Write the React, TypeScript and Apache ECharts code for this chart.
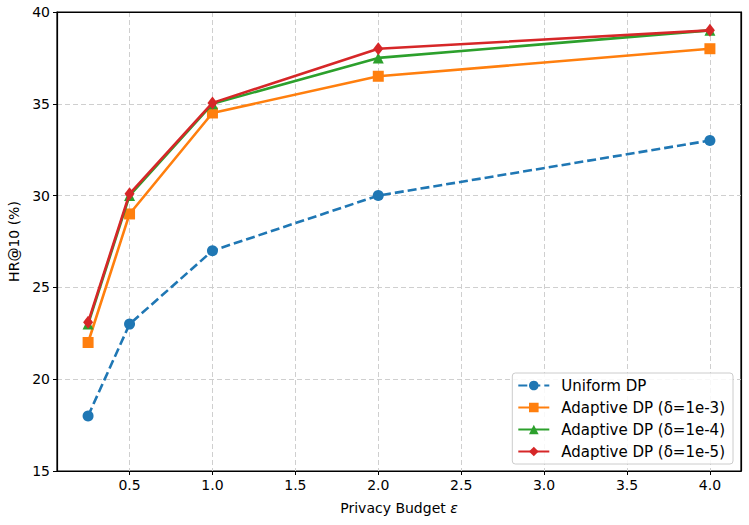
import React, { useEffect, useRef } from "react";
import * as echarts from "echarts";

const budgets = [0.25, 0.5, 1.0, 2.0, 4.0];
const uniformDP = [18, 23, 27, 30, 33];
const adaptive1e3 = [22, 29, 34.5, 36.5, 38];
const adaptive1e4 = [23, 30, 35, 37.5, 39];
const adaptive1e5 = [23.1, 30.1, 35.05, 38, 39];
const xTicks = [0.5, 1.0, 1.5, 2.0, 2.5, 3.0, 3.5, 4.0];
const seriesNames = [
  "Uniform DP",
  "Adaptive DP (δ=1e-3)",
  "Adaptive DP (δ=1e-4)",
  "Adaptive DP (δ=1e-5)",
];

const FONT = "DejaVu Sans";

export default function App() {
  const ref = useRef<HTMLDivElement>(null);
  useEffect(() => {
    if (!ref.current) return;
    const chart = echarts.init(ref.current, undefined, { renderer: "svg" });
    const pts = (ys: number[]) => budgets.map((x, i) => [x, ys[i]]);
    const mk = (
      name: string,
      ys: number[],
      color: string,
      symbol: string,
      symbolSize: number | number[],
      dashed: boolean,
      z: number
    ) => ({
      name,
      type: "line",
      data: pts(ys),
      symbol,
      symbolSize,
      z,
      itemStyle: { color },
      lineStyle: { color, width: 2.6, type: dashed ? [9, 4] : "solid" },
      emphasis: { disabled: true },
    });
    const frameAxis = {
      axisLine: { show: true, onZero: false, lineStyle: { color: "#000", width: 1.2 } },
      axisTick: { show: false },
      axisLabel: { show: false },
      splitLine: { show: false },
    };
    chart.setOption({
      animation: false,
      textStyle: { fontFamily: FONT },
      grid: {
        left: 57,
        right: 8,
        top: 12,
        bottom: 54,
        outerBoundsMode: "none",
        containLabel: false,
        show: true,
        borderColor: "#000",
        borderWidth: 1.2,
        backgroundColor: "#fff",
      },
      legend: {
        orient: "vertical",
        right: 16,
        bottom: 61,
        align: "left",
        itemWidth: 31,
        itemHeight: 12,
        itemGap: 7,
        padding: [5, 8, 5, 5],
        backgroundColor: "rgba(255,255,255,0.85)",
        borderColor: "#cccccc",
        borderWidth: 1,
        borderRadius: 3,
        textStyle: { fontFamily: FONT, fontSize: 15, color: "#000", padding: [0, 0, 0, 7] },
        data: seriesNames,
      },
      xAxis: [
        {
          type: "value",
          min: 0.0625,
          max: 4.1875,
          name: "{n|Privacy Budget }{e|ε}",
          nameLocation: "middle",
          nameGap: 30,
          nameTextStyle: {
            rich: {
              n: { fontFamily: FONT, fontSize: 14, color: "#000" },
              e: { fontFamily: FONT, fontSize: 14, color: "#000", fontStyle: "italic" },
            },
          },
          axisLine: { show: true, lineStyle: { color: "#000", width: 1.2 } },
          axisTick: {
            show: true,
            inside: false,
            length: 4,
            lineStyle: { color: "#000" },
            customValues: xTicks,
          },
          axisLabel: {
            fontFamily: FONT,
            fontSize: 14,
            color: "#000",
            margin: 7,
            customValues: xTicks,
            formatter: (v: number) => v.toFixed(1),
          },
          splitLine: {
            show: true,
            lineStyle: { color: "#cfcfcf", type: [5, 3], width: 1 },
          },
        },
        { type: "value", position: "top", min: 0.0625, max: 4.1875, ...frameAxis },
      ],
      yAxis: [
        {
          type: "value",
          min: 15,
          max: 40,
          interval: 5,
          name: "HR@10 (%)",
          nameLocation: "middle",
          nameGap: 34,
          nameTextStyle: { fontFamily: FONT, fontSize: 14, color: "#000" },
          axisLine: { show: true, lineStyle: { color: "#000", width: 1.2 } },
          axisTick: { show: true, inside: false, length: 4, lineStyle: { color: "#000" } },
          axisLabel: { fontFamily: FONT, fontSize: 14, color: "#000", margin: 7 },
          splitLine: {
            show: true,
            lineStyle: { color: "#cfcfcf", type: [5, 3], width: 1 },
          },
        },
        { type: "value", position: "right", min: 15, max: 40, interval: 5, ...frameAxis },
      ],
      series: [
        mk(seriesNames[0], uniformDP, "#1f77b4", "circle", 11, true, 2),
        mk(seriesNames[1], adaptive1e3, "#ff7f0e", "rect", 11, false, 3),
        mk(seriesNames[2], adaptive1e4, "#2ca02c", "triangle", 11, false, 4),
        mk(seriesNames[3], adaptive1e5, "#d62728", "diamond", [10, 13], false, 5),
      ],
    });
    return () => chart.dispose();
  }, []);
  return (
    <div
      ref={ref}
      style={{ position: "absolute", left: 0, top: 0, width: 749, height: 525 }}
    />
  );
}
